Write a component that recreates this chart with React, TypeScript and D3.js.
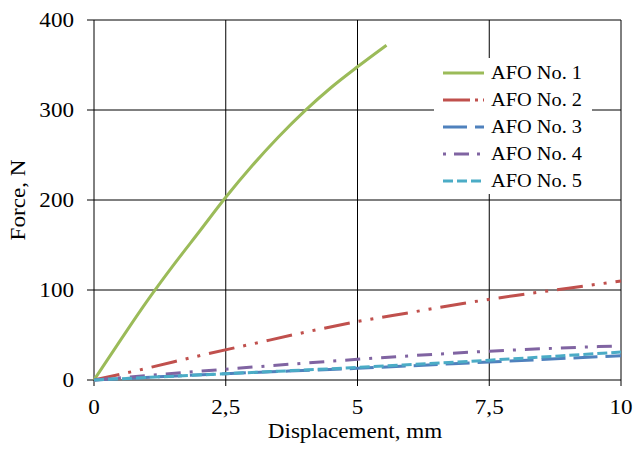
import React from "react";
import * as d3 from "d3";

const xTicks = [0, 2.5, 5, 7.5, 10];
const xTickLabels = ["0", "2,5", "5", "7,5", "10"];
const yTicks = [0, 100, 200, 300, 400];

const afo1X = [0, 0.5, 1, 1.5, 2, 2.5, 3, 3.5, 4, 4.5, 5, 5.55];
const afo1Y = [0, 44, 87, 127, 165, 203, 238, 270, 299, 325, 348, 372];
const afo2X = [0, 1, 2, 3, 4, 5, 6, 7, 8, 9, 10];
const afo2Y = [0, 13, 27, 40, 53, 65, 75, 85, 94, 102, 110];
const afo3X = [0, 2.5, 5, 7.5, 10];
const afo3Y = [0, 7, 13, 20, 27];
const afo4X = [0, 2.5, 5, 7.5, 10];
const afo4Y = [0, 12, 23, 32, 38];
const afo5X = [0, 2.5, 5, 7.5, 10];
const afo5Y = [0, 7, 14, 22, 31];

const seriesNames = ["AFO No. 1", "AFO No. 2", "AFO No. 3", "AFO No. 4", "AFO No. 5"];
const seriesColors = ["#9BBB59", "#C0504D", "#4F81BD", "#8064A2", "#4BACC6"];
const seriesDash = ["none", "26,9,3,9,3,9", "24,8", "15,9,3,9", "10,4"];
const legendDash = ["none", "27,5,3,5,3,5", "24,8", "3,8,15,8", "10,4"];
const seriesX = [afo1X, afo2X, afo3X, afo4X, afo5X];
const seriesY = [afo1Y, afo2Y, afo3Y, afo4Y, afo5Y];

const font = "'Liberation Serif', 'Times New Roman', serif";

export default function App() {
  const left = 94, right = 621, top = 20, bottom = 380;
  const x = d3.scaleLinear().domain([0, 10]).range([left, right]);
  const y = d3.scaleLinear().domain([0, 400]).range([bottom, top]);
  const line = d3.line<[number, number]>().x(d => x(d[0])).y(d => y(d[1])).curve(d3.curveMonotoneX);

  const T = (props: { x: number; y: number; size: number; anchor?: string; children: React.ReactNode; rotate?: boolean }) => (
    <g transform={`translate(${props.x},${props.y})${props.rotate ? " rotate(-90)" : ""} scale(1.1,1)`}>
      <text x={0} y={0} textAnchor={props.anchor || "start"} fontFamily={font} fontSize={props.size} fill="#000">
        {props.children}
      </text>
    </g>
  );

  return (
    <svg width={633} height={450} style={{ position: "absolute", left: 0, top: 0 }}>
      <rect x={0} y={0} width={633} height={450} fill="#fff" />
      {/* grid */}
      {xTicks.map((t, i) => (
        <line key={"gx" + i} x1={x(t)} x2={x(t)} y1={top} y2={bottom} stroke="#000" strokeWidth={1} />
      ))}
      {yTicks.map((t, i) => (
        <line key={"gy" + i} x1={left} x2={right} y1={y(t)} y2={y(t)} stroke="#000" strokeWidth={1} />
      ))}
      {/* ticks */}
      {xTicks.map((t, i) => (
        <line key={"tx" + i} x1={x(t)} x2={x(t)} y1={bottom} y2={bottom + 6} stroke="#000" strokeWidth={1} />
      ))}
      {yTicks.map((t, i) => (
        <line key={"ty" + i} x1={left - 7} x2={left} y1={y(t)} y2={y(t)} stroke="#000" strokeWidth={1} />
      ))}
      {/* series */}
      {seriesX.map((xs, i) => (
        <path
          key={"s" + i}
          d={line(xs.map((v, j) => [v, seriesY[i][j]] as [number, number])) || ""}
          fill="none"
          stroke={seriesColors[i]}
          strokeWidth={3}
          strokeDasharray={seriesDash[i]}
        />
      ))}
      {/* legend */}
      <rect x={434} y={58} width={158} height={136} fill="#fff" />
      {seriesNames.map((n, i) => {
        const ly = 73 + i * 27;
        return (
          <g key={"l" + i}>
            <line x1={443} x2={484} y1={ly} y2={ly} stroke={seriesColors[i]} strokeWidth={3} strokeDasharray={legendDash[i]} />
            <T x={491} y={ly + 6} size={18.5}>{n}</T>
          </g>
        );
      })}
      {/* tick labels */}
      {yTicks.map((t, i) => (
        <T key={"yl" + i} x={74} y={y(t) + 7} size={21} anchor="end">{String(t)}</T>
      ))}
      {xTicks.map((t, i) => (
        <T key={"xl" + i} x={x(t)} y={414} size={21} anchor="middle">{xTickLabels[i]}</T>
      ))}
      <T x={355} y={438} size={21} anchor="middle">Displacement, mm</T>
      <T x={25} y={200} size={21} anchor="middle" rotate>Force, N</T>
    </svg>
  );
}
